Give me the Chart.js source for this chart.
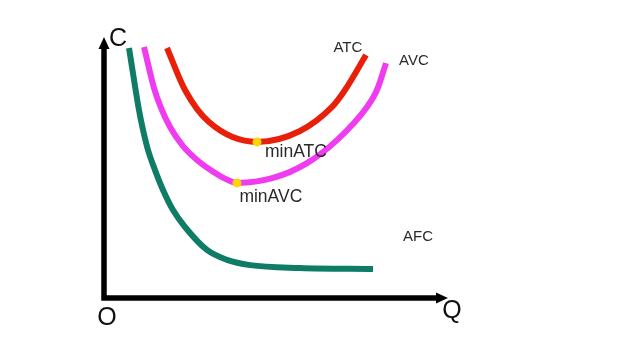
<!DOCTYPE html>
<html>
<head>
<meta charset="utf-8">
<script src="https://cdn.jsdelivr.net/npm/chart.js@4.4.1/dist/chart.umd.min.js"></script>
<style>
html,body{margin:0;padding:0;background:#fff;}
#wrap{width:640px;height:360px;}
</style>
</head>
<body>
<div id="wrap"><canvas id="c" width="640" height="360"></canvas></div>
<script>
// Data (Q: 0..100, C: 0..100)
const afcQ = [7.27, 10.17, 11.34, 12.79, 14.83, 17.15, 20.06, 23.55, 29.94, 35.76, 42.44, 56.98, 78.2];
const afcC = [95.8, 72.0, 64.4, 56.7, 49.0, 41.4, 33.7, 27.2, 18.4, 14.6, 12.6, 11.5, 11.1];
const avcQ = [11.63, 14.53, 16.57, 19.19, 22.97, 27.03, 31.40, 36.05, 38.66, 49.13, 59.01, 67.73, 76.45, 79.36, 81.98];
const avcC = [96.2, 80.5, 72.8, 65.5, 58.2, 52.9, 48.7, 45.2, 44.1, 46.0, 51.7, 60.5, 73.2, 79.7, 90.0];
const atcQ = [18.31, 23.55, 30.52, 44.48, 56.98, 66.28, 70.06, 76.16];
const atcC = [95.8, 79.7, 67.4, 59.8, 64.0, 73.2, 79.7, 93.1];
const minQ = [44.48, 38.66];
const minC = [59.8, 44.1];
const curveNames = ['AFC', 'AVC', 'ATC'];

const pts = (xs, ys) => xs.map((x, i) => ({x, y: ys[i]}));

const labels = [
  {t: 'ATC', q: 70.9, c: 95.8, size: 15},
  {t: 'AVC', q: 90.1, c: 90.8, size: 15},
  {t: 'minATC', q: 55.8, c: 55.9, size: 17.5},
  {t: 'minAVC', q: 48.5, c: 38.7, size: 17.5},
  {t: 'AFC', q: 91.3, c: 23.4, size: 15}
];

const axesPlugin = {
  id: 'axesPlugin',
  beforeDatasetsDraw(chart) {
    const ctx = chart.ctx, xs = chart.scales.x, ys = chart.scales.y;
    const x0 = xs.getPixelForValue(0), y0 = ys.getPixelForValue(0);
    const xEnd = xs.getPixelForValue(100), yEnd = ys.getPixelForValue(100);
    ctx.save();
    ctx.strokeStyle = '#000'; ctx.fillStyle = '#000'; ctx.lineWidth = 5.5;
    ctx.lineCap = 'butt';
    ctx.beginPath();
    ctx.moveTo(x0, y0 + 2.75); ctx.lineTo(x0, yEnd + 10);
    ctx.moveTo(x0 - 2.75, y0); ctx.lineTo(xEnd - 10, y0);
    ctx.stroke();
    ctx.beginPath();
    ctx.moveTo(x0, yEnd); ctx.lineTo(x0 - 5.5, yEnd + 12); ctx.lineTo(x0 + 5.5, yEnd + 12); ctx.closePath();
    ctx.fill();
    ctx.beginPath();
    ctx.moveTo(xEnd, y0); ctx.lineTo(xEnd - 12, y0 - 5.5); ctx.lineTo(xEnd - 12, y0 + 5.5); ctx.closePath();
    ctx.fill();
    ctx.restore();
  },
  afterDatasetsDraw(chart) {
    const ctx = chart.ctx, xs = chart.scales.x, ys = chart.scales.y;
    const x0 = xs.getPixelForValue(0), y0 = ys.getPixelForValue(0);
    const xEnd = xs.getPixelForValue(100), yEnd = ys.getPixelForValue(100);
    ctx.save();
    ctx.textAlign = 'center'; ctx.textBaseline = 'middle';
    ctx.fillStyle = '#2a2a2a';
    labels.forEach(l => {
      ctx.font = l.size + 'px "Liberation Sans", Arial, sans-serif';
      ctx.fillText(l.t, xs.getPixelForValue(l.q), ys.getPixelForValue(l.c));
    });
    ctx.fillStyle = '#111';
    ctx.font = '25px "Liberation Sans", Arial, sans-serif';
    ctx.fillText('C', x0 + 14, yEnd + 2);
    ctx.fillText('O', x0 + 3, y0 + 20);
    ctx.fillText('Q', xEnd + 4, y0 + 13);
    ctx.restore();
  }
};

new Chart(document.getElementById('c'), {
  type: 'scatter',
  data: {
    datasets: [
      {label: 'min', data: pts(minQ, minC), showLine: false, pointRadius: 4.5,
       pointBackgroundColor: '#ffd400', pointBorderWidth: 0, clip: false, order: 0},
      {label: curveNames[0], data: pts(afcQ, afcC), showLine: true, borderColor: '#0f7d66',
       borderWidth: 6, pointRadius: 0, cubicInterpolationMode: 'monotone', clip: false, order: 1},
      {label: curveNames[1], data: pts(avcQ, avcC), showLine: true, borderColor: '#f03cf0',
       borderWidth: 6, pointRadius: 0, cubicInterpolationMode: 'monotone', clip: false, order: 1},
      {label: curveNames[2], data: pts(atcQ, atcC), showLine: true, borderColor: '#e8200a',
       borderWidth: 6, pointRadius: 0, cubicInterpolationMode: 'monotone', clip: false, order: 1}
    ]
  },
  options: {
    responsive: false,
    animation: false,
    layout: {padding: {left: 104, right: 192, top: 37, bottom: 62}},
    scales: {
      x: {type: 'linear', min: 0, max: 100, display: false},
      y: {type: 'linear', min: 0, max: 100, display: false}
    },
    plugins: {legend: {display: false}, tooltip: {enabled: false}}
  },
  plugins: [axesPlugin]
});
</script>
</body>
</html>
